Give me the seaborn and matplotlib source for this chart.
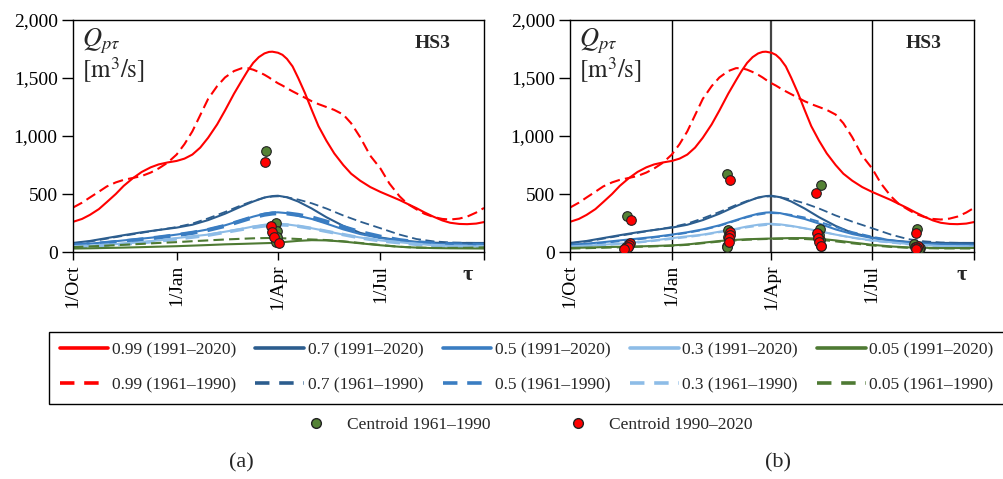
import matplotlib
matplotlib.use("Agg")
import matplotlib.pyplot as plt
from matplotlib.lines import Line2D
from matplotlib.ticker import FuncFormatter
import seaborn as sns

# ---------------- data ----------------
# fine day grid for the 0.99 quantile curves (days from 1 October)
days_fine = [0, 8, 15, 23, 30, 38, 45, 53, 61, 69, 76, 84, 92, 99, 106, 113, 120, 128,
             135, 143, 150, 155, 160, 165, 170, 174, 177, 182, 186, 190, 195, 200, 206,
             212, 218, 225, 232, 240, 247, 255, 264, 273, 281, 290, 297, 305, 312, 320,
             328, 335, 343, 350, 358, 365]
q99_new = [260, 285, 320, 370, 430, 500, 570, 635, 690, 730, 755, 772, 785, 805, 840,
           900, 985, 1100, 1220, 1365, 1480, 1560, 1630, 1680, 1712, 1725, 1727, 1718,
           1700, 1665, 1600, 1500, 1370, 1225, 1085, 960, 850, 750, 675, 615, 560, 518,
           485, 448, 415, 378, 342, 305, 272, 252, 242, 240, 245, 258]
q99_old = [383, 425, 470, 520, 565, 600, 622, 638, 655, 685, 720, 770, 840, 930, 1040,
           1180, 1320, 1430, 1505, 1560, 1585, 1585, 1572, 1552, 1528, 1505, 1485, 1455,
           1435, 1412, 1385, 1360, 1330, 1300, 1275, 1250, 1225, 1185, 1110, 990, 830,
           720, 590, 480, 415, 368, 330, 302, 285, 280, 288, 305, 340, 380]

# coarser day grid for the other quantiles
days = [0, 15, 30, 45, 61, 76, 92, 106, 120, 135, 150, 160, 170, 177, 182,
        190, 200, 212, 225, 240, 255, 273, 290, 305, 320, 335, 350, 365]
q70_new = [78, 95, 120, 145, 170, 190, 210, 235, 275, 330, 395, 435, 470, 482, 485,
           472, 435, 375, 300, 225, 165, 125, 100, 88, 80, 78, 78, 78]
q70_old = [75, 90, 115, 140, 165, 190, 215, 245, 290, 345, 405, 440, 468, 478, 480,
           472, 452, 420, 375, 315, 262, 205, 150, 112, 92, 82, 79, 78]
q50_new = [62, 72, 85, 100, 115, 130, 150, 170, 195, 230, 275, 305, 330, 340, 342,
           335, 312, 285, 245, 195, 155, 120, 98, 84, 72, 67, 64, 62]
q50_old = [58, 66, 78, 92, 108, 125, 145, 165, 190, 225, 270, 300, 322, 332, 335,
           333, 320, 298, 262, 215, 172, 132, 102, 84, 73, 66, 63, 60]
q30_new = [48, 55, 63, 72, 85, 100, 120, 135, 150, 175, 200, 220, 235, 242, 243,
           238, 225, 205, 180, 150, 125, 100, 84, 70, 60, 52, 50, 48]
q30_old = [45, 50, 58, 68, 80, 95, 112, 128, 145, 170, 195, 212, 225, 232, 235,
           232, 222, 203, 178, 150, 122, 96, 80, 66, 56, 50, 48, 46]
q05_new_a = [30, 32, 35, 38, 42, 46, 50, 55, 60, 66, 70, 73, 76, 78, 80,
             88, 96, 102, 100, 90, 75, 58, 45, 38, 34, 32, 31, 30]
q05_old_a = [42, 48, 55, 62, 70, 78, 85, 93, 100, 108, 114, 118, 120, 121, 120,
             117, 112, 108, 103, 92, 78, 60, 45, 38, 35, 35, 36, 40]
q05_new_b = [35, 38, 42, 45, 48, 52, 57, 65, 80, 95, 105, 110, 113, 115, 116,
             118, 120, 120, 115, 100, 82, 62, 48, 40, 36, 34, 34, 35]
q05_old_b = [30, 33, 37, 41, 45, 49, 54, 62, 76, 90, 100, 106, 110, 112, 113,
             114, 114, 112, 106, 92, 75, 57, 44, 37, 33, 31, 31, 30]

# centroids, panel (a): annual
cen_old_a_day = [171, 180, 181.5, 181, 180]
cen_old_a_q = [873, 253, 184, 132, 83]
cen_new_a_day = [170.5, 175.5, 176.5, 178.5, 183]
cen_new_a_q = [778, 227, 169, 127, 75]

# centroids, panel (b): seasonal
cen_old_b_day = [51.5, 53, 52, 51, 50,
                 141.5, 143, 142.5, 141.8, 142,
                 226.8, 226, 225, 225.5, 226.5,
                 313.8, 310.8, 312, 316.2, 315]
cen_old_b_q = [310, 70, 50, 40, 30,
               676, 190, 130, 54, 45,
               576, 195, 150, 100, 55,
               196, 66, 45, 32, 28]
cen_new_b_day = [55, 54, 53.5, 52, 49,
                 144.5, 144.3, 144.3, 144, 143.6,
                 222.3, 223, 224, 225, 226.5,
                 312.6, 314.7, 313, 313.5, 313]
cen_new_b_q = [280, 80, 62, 40, 25,
               619, 175, 147, 118, 89,
               509, 160, 125, 90, 50,
               162, 52, 40, 35, 30]

tick_days = [0, 92, 182, 273, 365]
tick_labels = ["1/Oct", "1/Jan", "1/Apr", "1/Jul", ""]
y_ticks = [0, 500, 1000, 1500, 2000]
season_bounds = [92, 182, 273]

labels_new = ["0.99 (1991–2020)", "0.7 (1991–2020)", "0.5 (1991–2020)",
              "0.3 (1991–2020)", "0.05 (1991–2020)"]
labels_old = ["0.99 (1961–1990)", "0.7 (1961–1990)", "0.5 (1961–1990)",
              "0.3 (1961–1990)", "0.05 (1961–1990)"]
centroid_labels = ["Centroid 1961–1990", "Centroid 1990–2020"]

# ---------------- style ----------------
sns.set_theme(style="white")
plt.rcParams["font.family"] = ["Liberation Serif", "DejaVu Serif"]
plt.rcParams["mathtext.fontset"] = "stix"

C_RED = "#FF0000"
C_70 = "#2C5D8E"
C_50 = "#3A7DC2"
C_30 = "#8DBCE7"
C_05 = "#4E7A33"
C_GREEN_PT = "#548235"
DASH = (0, (5, 2.5))

fig = plt.figure(figsize=(10.04, 4.79), dpi=100)
axA = fig.add_axes([0.0727, 0.4739, 0.4094, 0.4843])
axB = fig.add_axes([0.5677, 0.4739, 0.4024, 0.4843])


def draw_line(ax, x, vals, color, ls, lw):
    sns.lineplot(x=x, y=vals, ax=ax, color=color, linestyle=ls, linewidth=lw,
                 estimator=None, sort=False, legend=False)


def style_axes(ax):
    ax.set_xlim(0, 365)
    ax.set_ylim(0, 2000)
    ax.set_xticks(tick_days)
    ax.set_xticklabels(tick_labels, rotation=90, fontsize=14, color="black")
    ax.set_yticks(y_ticks)
    ax.yaxis.set_major_formatter(FuncFormatter(lambda v, p: f"{int(v):,}"))
    ax.tick_params(axis="y", left=True, length=8, width=1, color="black",
                   direction="out", labelsize=14, labelcolor="black", pad=3)
    ax.tick_params(axis="x", bottom=True, length=6, width=1, color="black",
                   direction="out", labelsize=14, labelcolor="black", pad=3)
    for s in ax.spines.values():
        s.set_visible(True)
        s.set_color("black")
        s.set_linewidth(1.0)
    ax.set_xlabel("")
    ax.set_ylabel("")
    ax.text(0.022, 0.885, r"$Q_{p\tau}$", transform=ax.transAxes, fontsize=19,
            va="baseline", ha="left")
    ax.text(0.022, 0.748, r"$[\mathrm{m}^3/\mathrm{s}]$", transform=ax.transAxes,
            fontsize=18, va="baseline", ha="left")
    ax.text(0.876, 0.90, "HS3", transform=ax.transAxes, fontsize=14,
            fontweight="bold", ha="center", va="center")


# panel (a)
draw_line(axA, days_fine, q99_new, C_RED, "-", 1.5)
draw_line(axA, days_fine, q99_old, C_RED, DASH, 1.5)
draw_line(axA, days, q70_new, C_70, "-", 1.5)
draw_line(axA, days, q70_old, C_70, DASH, 1.3)
draw_line(axA, days, q50_new, C_50, "-", 1.5)
draw_line(axA, days, q50_old, C_50, (0, (4, 2.5)), 3.0)
draw_line(axA, days, q30_new, C_30, "-", 1.5)
draw_line(axA, days, q30_old, C_30, (0, (4, 2.5)), 2.5)
draw_line(axA, days, q05_new_a, C_05, "-", 1.5)
draw_line(axA, days, q05_old_a, C_05, DASH, 1.5)
sns.scatterplot(x=cen_old_a_day, y=cen_old_a_q, ax=axA, color=C_GREEN_PT,
                edgecolor="#222222", linewidth=0.8, s=48, zorder=5, legend=False)
sns.scatterplot(x=cen_new_a_day, y=cen_new_a_q, ax=axA, color=C_RED,
                edgecolor="#222222", linewidth=0.8, s=48, zorder=6, legend=False)
style_axes(axA)

# panel (b)
for d, col, lw in zip(season_bounds, ["black", "#444444", "black"], [1.0, 1.6, 1.0]):
    axB.axvline(d, color=col, linewidth=lw, zorder=1)
draw_line(axB, days_fine, q99_new, C_RED, "-", 1.5)
draw_line(axB, days_fine, q99_old, C_RED, DASH, 1.5)
draw_line(axB, days, q70_new, C_70, "-", 1.5)
draw_line(axB, days, q70_old, C_70, DASH, 1.3)
draw_line(axB, days, q50_new, C_50, "-", 1.5)
draw_line(axB, days, q50_old, C_50, DASH, 1.3)
draw_line(axB, days, q30_new, C_30, "-", 1.5)
draw_line(axB, days, q30_old, C_30, DASH, 1.3)
draw_line(axB, days, q05_new_b, C_05, "-", 1.5)
draw_line(axB, days, q05_old_b, C_05, DASH, 1.5)
sns.scatterplot(x=cen_old_b_day, y=cen_old_b_q, ax=axB, color=C_GREEN_PT,
                edgecolor="#222222", linewidth=0.8, s=48, zorder=5, legend=False)
sns.scatterplot(x=cen_new_b_day, y=cen_new_b_q, ax=axB, color=C_RED,
                edgecolor="#222222", linewidth=0.8, s=48, zorder=6, legend=False)
style_axes(axB)

# tau labels
fig.text(468 / 1004, 1 - 275 / 479, "τ", fontsize=16, fontweight="bold",
         ha="center", va="center")
fig.text(962 / 1004, 1 - 275 / 479, "τ", fontsize=16, fontweight="bold",
         ha="center", va="center")

# main legend
colors = [C_RED, C_70, C_50, C_30, C_05]
handles, labels = [], []
for c, ln, lo in zip(colors, labels_new, labels_old):
    handles.append(Line2D([0], [0], color=c, lw=2.6, ls="-"))
    labels.append(ln)
    handles.append(Line2D([0], [0], color=c, lw=2.6, ls=(0, (4, 2.7))))
    labels.append(lo)
leg1 = fig.legend(handles, labels, ncol=5, loc="upper left",
                  bbox_to_anchor=(0.049, 0.3075, 0.951, 0.0), mode="expand",
                  frameon=True, fancybox=False, edgecolor="black", fontsize=12.5,
                  handlelength=2.8, handletextpad=0.2, borderpad=0.6,
                  labelspacing=1.1, borderaxespad=0.0, framealpha=1)
leg1.get_frame().set_linewidth(1.0)

# centroid legend
c_handles = [Line2D([0], [0], marker="o", color="none", markerfacecolor=C_GREEN_PT,
                    markeredgecolor="#222222", markersize=7),
             Line2D([0], [0], marker="o", color="none", markerfacecolor=C_RED,
                    markeredgecolor="#222222", markersize=7)]
fig.legend(c_handles, centroid_labels, ncol=2,
           loc="center", bbox_to_anchor=(530 / 1004, 1 - 425 / 479), frameon=False,
           fontsize=12.5, handlelength=1.0, handletextpad=1.3, columnspacing=4.5)

# panel labels
fig.text(241 / 1004, 1 - 463 / 479, "(a)", fontsize=16, ha="center", va="center")
fig.text(778 / 1004, 1 - 463 / 479, "(b)", fontsize=16, ha="center", va="center")

fig.savefig("out.png", dpi=100, facecolor="white")
